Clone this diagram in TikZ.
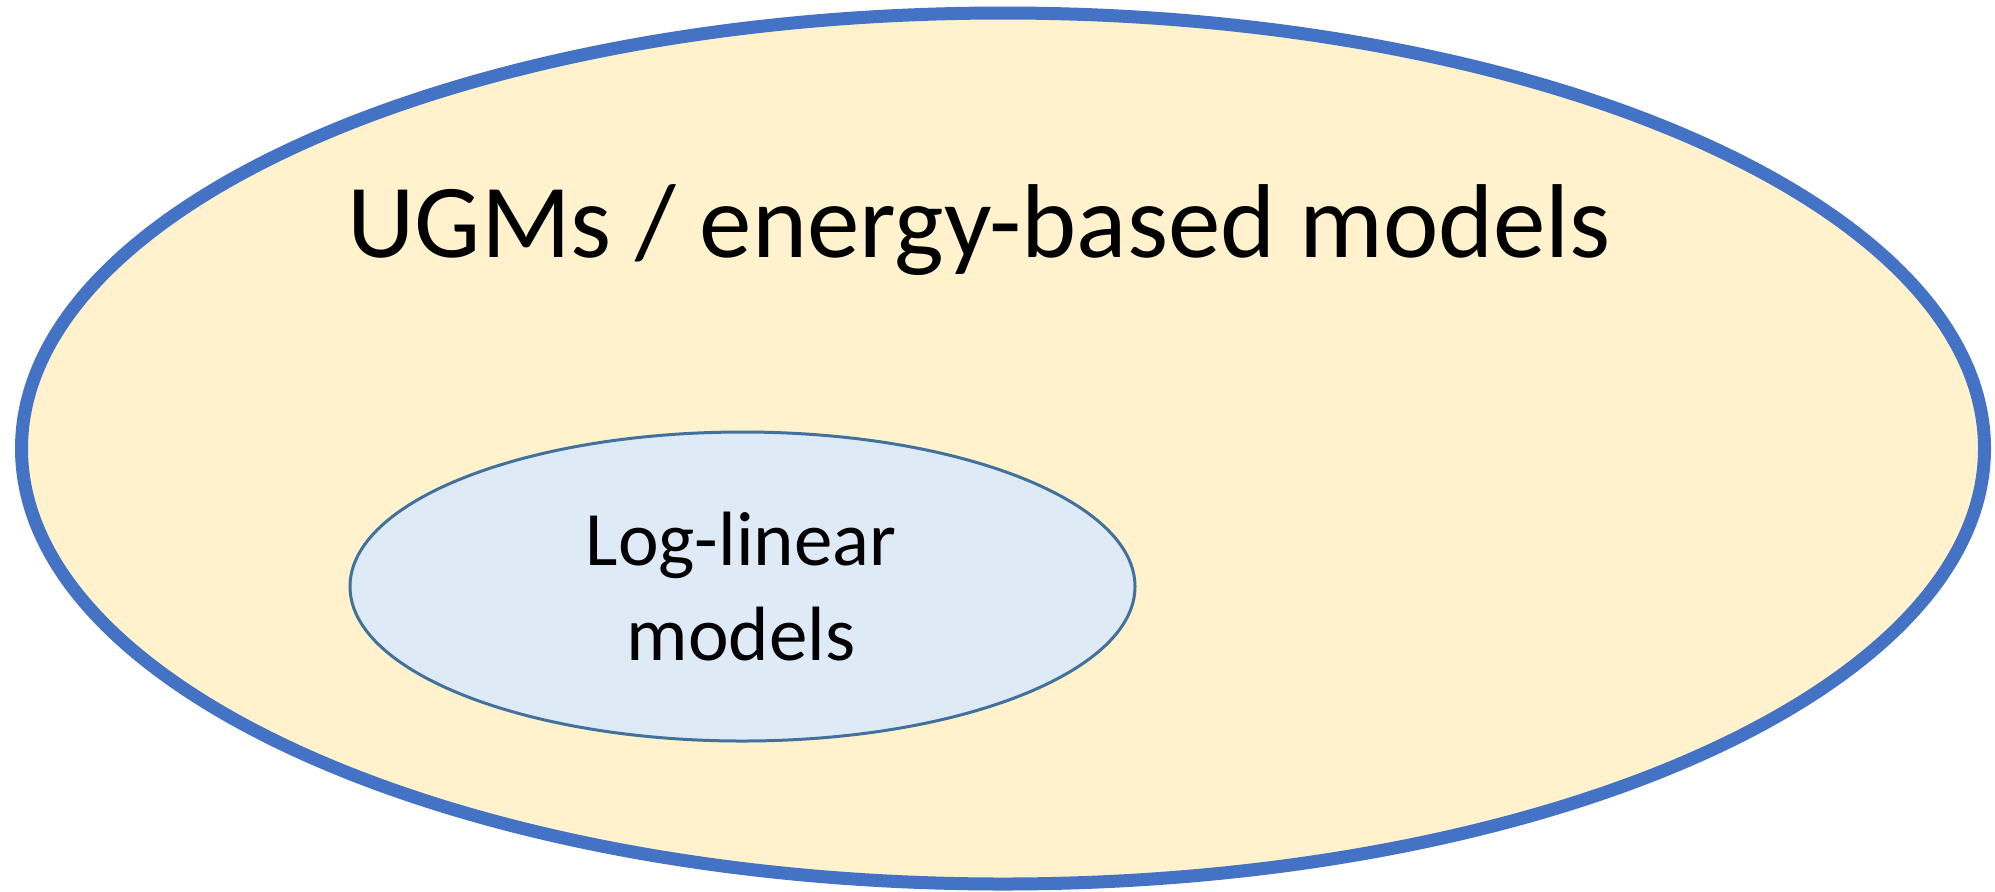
\documentclass[tikz,border=0pt]{standalone}
\usepackage{fontspec}
\setmainfont{Carlito}
\usetikzlibrary{shapes.geometric}
\definecolor{outerfill}{HTML}{FFF2CC}
\definecolor{outerline}{HTML}{4472C4}
\definecolor{innerfill}{HTML}{DEEBF7}
\definecolor{innerline}{HTML}{41719C}
\begin{document}
\begin{tikzpicture}[x=0.5pt,y=-0.5pt,
  outerset/.style={ellipse, draw=outerline, fill=outerfill, line width=6.5pt, inner sep=0pt,
    minimum width=981.5pt, minimum height=435.5pt},
  innerset/.style={ellipse, draw=innerline, fill=innerfill, line width=1.5pt, inner sep=0pt,
    minimum width=392.5pt, minimum height=154.5pt},
  bigtext/.style={font=\fontsize{52.5pt}{63pt}\selectfont, inner sep=0pt},
  smalltext/.style={font=\fontsize{38.5pt}{47.5pt}\selectfont, inner sep=0pt, align=center}]
\useasboundingbox (0,0) rectangle (1995,891);
\node[outerset] (ugm) at (1003,448.5) {};
\node[innerset] (loglin) at (742.5,586.5) {};
\node[bigtext, anchor=base west] (ugmlabel) at (347,257) {UGMs / energy-based models};
\node[smalltext, anchor=base] (loglinlabel) at (741,660) {Log-linear\\models};
\end{tikzpicture}
\end{document}
